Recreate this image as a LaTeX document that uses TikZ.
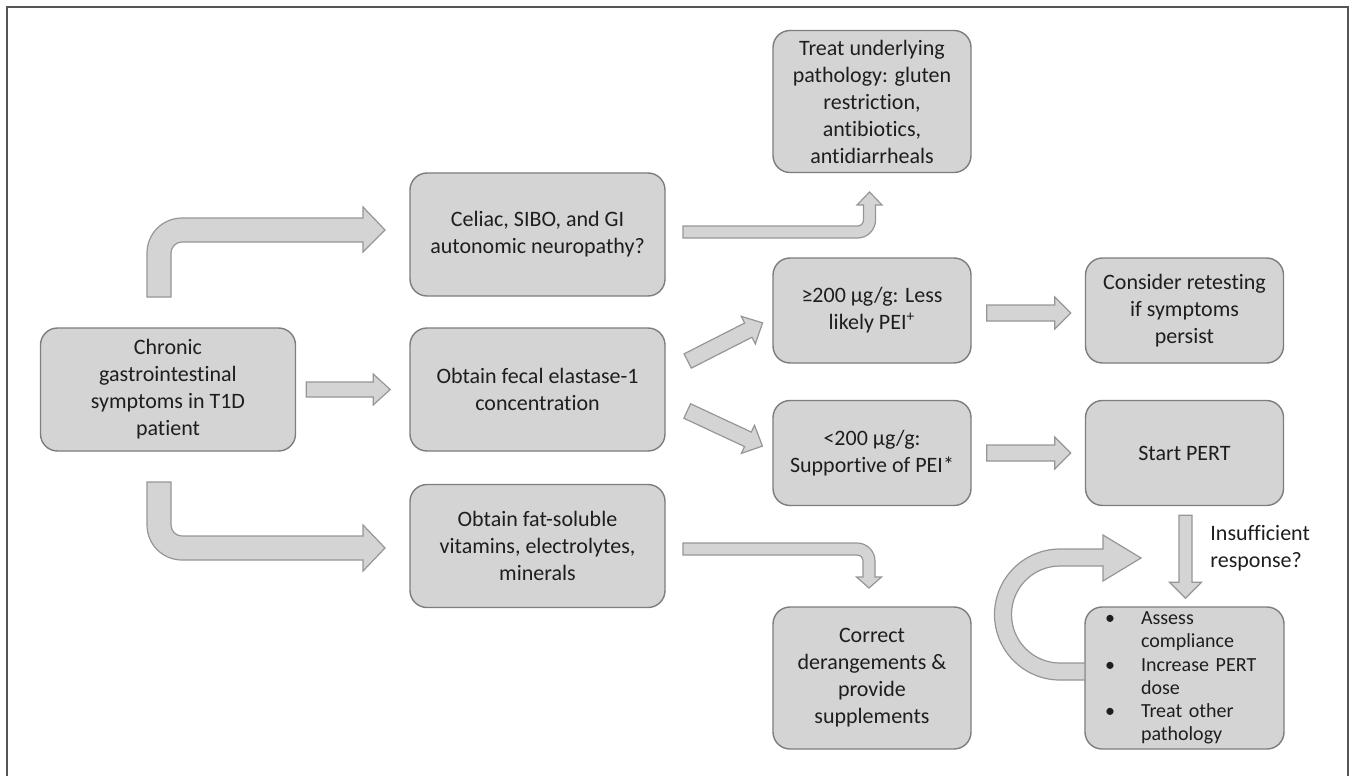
\documentclass[tikz,border=0pt]{standalone}
\usepackage{fontspec}
\setmainfont{Carlito}[Ligatures={NoCommon}]
\usetikzlibrary{calc}

\definecolor{boxfill}{RGB}{212,212,212}
\definecolor{boxline}{RGB}{125,125,125}
\definecolor{arrowline}{RGB}{150,150,150}
\definecolor{framegray}{RGB}{85,85,85}
\definecolor{textgray}{RGB}{30,30,30}

% block arrow: start, angle, length, shaft half width, head half width, head length
\newcommand{\blockarrow}[6]{
    \draw[fatarrow, shift={#1}, rotate=#2] (0,-#4) -- ({#3-#6},-#4) -- ({#3-#6},-#5) -- (#3,0) -- ({#3-#6},#5) -- ({#3-#6},#4) -- (0,#4) -- cycle;
}

\begin{document}
\begin{tikzpicture}[x=0.5pt, y=-0.5pt]
        \tikzstyle{box}=[draw=boxline, fill=boxfill, line width=0.7pt, rounded corners=8.5pt, align=center, text=textgray, font=\fontsize{11pt}{13.5pt}\selectfont, inner sep=2pt]
        \tikzstyle{wide}=[box, minimum width=127.5pt, minimum height=61.5pt]
        \tikzstyle{narrow}=[box, minimum width=99pt, minimum height=52.5pt]
        \tikzstyle{tall}=[box, minimum width=99pt, minimum height=71pt]
        \tikzstyle{fatarrow}=[draw=arrowline, fill=boxfill, line width=0.6pt, line join=miter]

        \useasboundingbox (0,0) rectangle (1352,775);
        \draw[framegray, line width=1.2pt] (7,790) -- (7,7) -- (1348,7) -- (1348,790);

        \node[wide] (chronic) at (168,389.5) {Chronic\\gastrointestinal\\symptoms in T1D\\patient};
        \node[wide] (celiac) at (537.5,234.5) {Celiac, SIBO, and GI\\autonomic neuropathy?};
        \node[wide] (fecal) at (537.5,389.5) {Obtain fecal elastase-1\\concentration};
        \node[wide] (fat) at (537.5,546) {Obtain fat-soluble\\vitamins, electrolytes,\\minerals};
        \node[tall] (treat) at (872,101.5) {Treat underlying\\pathology: gluten\\restriction,\\antibiotics,\\antidiarrheals};
        \node[narrow] (high) at (872,310.5) {≥200 µg/g: Less\\likely PEI\textsuperscript{+}};
        \node[narrow] (low) at (872,453) {<200 µg/g:\\Supportive of PEI*};
        \node[tall] (correct) at (872,678) {Correct\\derangements \&\\provide\\supplements};
        \node[narrow] (retest) at (1184.5,310.5) {Consider retesting\\if symptoms\\persist};
        \node[narrow] (pert) at (1184.5,453) {Start PERT};
        \node[tall, align=left, text width=79.5pt, inner xsep=10pt, font=\fontsize{10pt}{11.6pt}\selectfont] (adjust) at (1184.5,678)
            {\makebox[18pt][l]{\textbullet}Assess\\\hspace*{18pt}compliance\\\makebox[18pt][l]{\textbullet}Increase PERT\\\hspace*{18pt}dose\\\makebox[18pt][l]{\textbullet}Treat other\\\hspace*{18pt}pathology};
        \node[anchor=west, align=left, inner sep=0pt, text=textgray, font=\fontsize{11pt}{13.5pt}\selectfont] (insuff) at (1210,548.5) {Insufficient\\response?};

        % straight arrows
        \blockarrow{($(chronic.east)+(10,0)$)}{0}{84}{7.5}{15.5}{17}
        \blockarrow{($(fecal.east)+(22,-28.5)$)}{27}{84}{8}{15.5}{16}
        \blockarrow{($(fecal.east)+(21.5,21.5)$)}{-25}{83}{8}{15.5}{16}
        \blockarrow{($(high.east)+(15,2.5)$)}{0}{84}{8}{16}{16}
        \blockarrow{($(low.east)+(15,0)$)}{0}{84}{8}{16}{16}
        \blockarrow{($(pert.south)+(1,9)$)}{-90}{83}{6.5}{16}{16}

        % bent arrows
        \draw[fatarrow] (147,297) -- (147,253) arc[start angle=180, end angle=270, radius=35] -- (363,218) -- (363,207) -- (385,230) -- (363,252) -- (363,242) -- (182,242) arc[start angle=270, end angle=180, radius=11] -- (171,297) -- cycle;
        \draw[fatarrow] (147,482) -- (147,525) arc[start angle=180, end angle=90, radius=35] -- (363,560) -- (363,571) -- (385,548) -- (363,525) -- (363,536) -- (182,536) arc[start angle=90, end angle=180, radius=11] -- (171,482) -- cycle;
        \draw[fatarrow] (683,226) -- (857.5,226) arc[start angle=90, end angle=0, radius=6] -- (863.5,205) -- (857,205) -- (869.5,192) -- (882,205) -- (875.5,205) -- (875.5,220) arc[start angle=0, end angle=90, radius=18] -- (683,238) -- cycle;
        \draw[fatarrow] (683,543) -- (857,543) arc[start angle=270, end angle=360, radius=18] -- (875,577) -- (881.5,577) -- (869,588) -- (856.5,577) -- (863,577) -- (863,561) arc[start angle=0, end angle=-90, radius=6] -- (683,555) -- cycle;
        \draw[fatarrow] (1085,663) -- (1060,663) arc[start angle=90, end angle=270, radius=48.5] -- (1103,566) -- (1103,581) -- (1141,558) -- (1103,535) -- (1103,549) -- (1060,549) arc[start angle=270, end angle=90, radius=65.5] -- (1085,680) -- cycle;
\end{tikzpicture}
\end{document}
